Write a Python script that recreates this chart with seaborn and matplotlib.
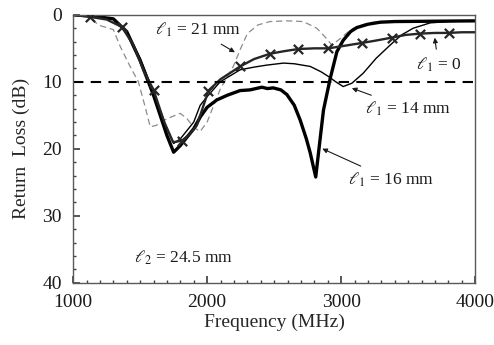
import matplotlib
matplotlib.use('Agg')
import matplotlib.pyplot as plt
import seaborn as sns
from matplotlib.ticker import MultipleLocator

# 数据
freq_0 = [1000, 1127, 1250, 1363, 1450, 1530, 1600, 1680, 1746, 1811, 1870, 1923, 2010, 2100,
          2246, 2350, 2470, 2581, 2681, 2800, 2905, 3030, 3154, 3270, 3378, 3480, 3590, 3700,
          3801, 3900, 4000]
loss_0 = [0.0, 0.3, 0.7, 1.8, 4.5, 8.5, 11.2, 16.0, 19.0, 18.8, 17.8, 16.5, 11.3, 9.6,
          7.7, 6.6, 5.8, 5.4, 5.1, 5.0, 5.0, 4.6, 4.2, 3.8, 3.4, 3.0, 2.8, 2.7,
          2.7, 2.6, 2.6]
marker_freqs = [1127, 1363, 1600, 1811, 2010, 2246, 2470, 2681, 2905, 3154, 3378, 3590, 3801]

freq_14 = [1000, 1150, 1300, 1400, 1500, 1600, 1700, 1750, 1800, 1900, 1948, 2000, 2097, 2246,
           2350, 2445, 2570, 2650, 2769, 2850, 2905, 2960, 3015, 3080, 3165, 3260, 3366, 3450,
           3537, 3664, 3800, 4000]
loss_14 = [0.0, 0.2, 0.6, 2.5, 6.5, 11.5, 17.0, 19.2, 18.5, 16.0, 13.5, 12.2, 10.0, 8.2,
           7.8, 7.5, 7.2, 7.3, 7.7, 8.5, 9.2, 10.0, 10.7, 10.2, 8.7, 6.5, 4.5, 3.0,
           2.0, 1.2, 1.0, 0.9]

freq_16 = [1000, 1150, 1300, 1400, 1500, 1600, 1700, 1750, 1800, 1900, 1950, 2000, 2072, 2150,
           2246, 2320, 2408, 2450, 2493, 2550, 2595, 2650, 2694, 2740, 2769, 2810, 2840, 2868,
           2918, 2968, 3015, 3070, 3117, 3200, 3291, 3400, 4000]
loss_16 = [0.0, 0.2, 0.6, 2.5, 6.8, 12.0, 18.0, 20.5, 19.5, 17.0, 15.2, 13.8, 12.7, 12.0,
           11.3, 11.2, 10.8, 11.0, 10.9, 11.2, 11.9, 13.5, 15.7, 18.5, 20.6, 24.2, 19.0, 14.2,
           9.5, 5.5, 3.8, 2.5, 1.9, 1.4, 1.1, 1.0, 0.9]

freq_21 = [1000, 1100, 1200, 1300, 1351, 1425, 1487, 1537, 1575, 1620, 1700, 1799, 1850, 1900,
           1948, 2000, 2045, 2100, 2195, 2246, 2300, 2380, 2470, 2600, 2717, 2818, 2880, 2930,
           2990, 3042, 3090, 3200, 3300, 4000]
loss_21 = [0.0, 0.2, 1.6, 2.2, 4.7, 7.7, 10.0, 13.7, 16.7, 16.5, 15.5, 14.7, 15.5, 16.8,
           17.4, 16.0, 13.7, 11.0, 7.7, 5.2, 2.8, 1.5, 1.0, 0.9, 1.0, 2.0, 3.3, 4.5,
           3.6, 2.7, 2.0, 1.2, 1.0, 0.9]

sns.set_theme(style='ticks')
plt.rcParams['font.family'] = ['Liberation Serif', 'DejaVu Serif']
plt.rcParams['mathtext.fontset'] = 'stix'

fig = plt.figure(figsize=(4.94, 3.45), dpi=100)
ax = fig.add_axes([0.148, 0.18, 0.814, 0.777])

sns.lineplot(x=freq_21, y=loss_21, ax=ax, sort=False, color='0.55', lw=0.9,
             linestyle=(0, (5, 3)))
sns.lineplot(x=freq_14, y=loss_14, ax=ax, sort=False, color='black', lw=1.0)
sns.lineplot(x=freq_16, y=loss_16, ax=ax, sort=False, color='black', lw=2.4)
sns.lineplot(x=freq_0, y=loss_0, ax=ax, sort=False, color='0.15', lw=1.7)
# 标记点
mark_loss = [loss_0[freq_0.index(f)] for f in marker_freqs]
sns.scatterplot(x=marker_freqs, y=mark_loss, ax=ax, marker='x', s=45, color='0.15',
                linewidth=1.6, zorder=5)
ax.axhline(10, color='black', lw=1.5, ls=(0, (5, 3.5)))

ax.set_xlim(1000, 4000)
ax.set_ylim(40, 0)
ax.set_xticks([1000, 2000, 3000, 4000])
ax.set_yticks([0, 10, 20, 30, 40])
ax.xaxis.set_minor_locator(MultipleLocator(100))
ax.yaxis.set_minor_locator(MultipleLocator(2))
ax.tick_params(which='both', direction='in', labelsize=14, colors='0.25', labelcolor='0.1')
ax.tick_params(which='major', length=5, pad=8)
ax.tick_params(which='minor', length=2.5)
for s in ax.spines.values():
    s.set_color('0.35')
    s.set_linewidth(1.0)

ax.set_xlabel('Frequency (MHz)', fontsize=14, labelpad=2)
ax.set_ylabel('Return  Loss (dB)', fontsize=14, labelpad=9)

kw = dict(fontsize=12.5, color='0.1',
          arrowprops=dict(arrowstyle='-|>', color='0.1', lw=0.8, mutation_scale=7))
ax.annotate(r'$\ell_1$ = 21 mm', xy=(2225, 5.8), xytext=(1930, 2.3), ha='center', va='center', **kw)
ax.annotate(r'$\ell_1$ = 0', xy=(3695, 3.0), xytext=(3725, 7.4), ha='center', va='center', **kw)
ax.annotate(r'$\ell_1$ = 14 mm', xy=(3060, 10.8), xytext=(3500, 14.0), ha='center', va='center', **kw)
ax.annotate(r'$\ell_1$ = 16 mm', xy=(2840, 19.8), xytext=(3370, 24.6), ha='center', va='center', **kw)
ax.text(1820, 36.3, r'$\ell_2$ = 24.5 mm', fontsize=12.5, color='0.1', ha='center', va='center')

fig.savefig('out.png', dpi=100)
plt.close(fig)
